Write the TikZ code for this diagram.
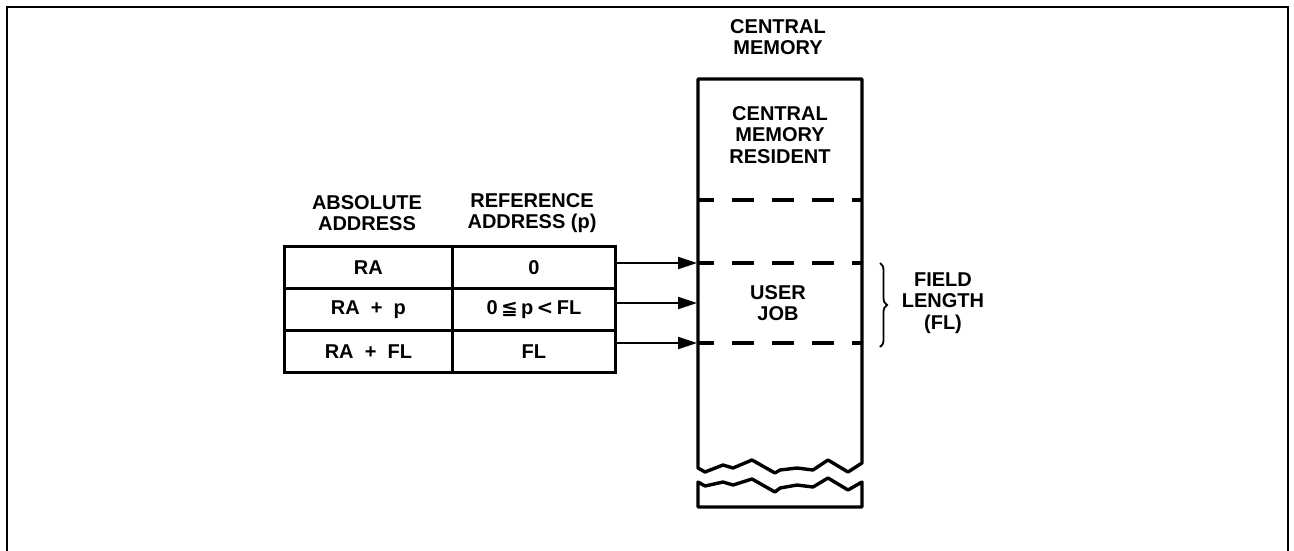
\documentclass[tikz,border=0pt]{standalone}
\usepackage{fontspec}
\setmainfont{Liberation Sans}
\newfontfamily\symfont{DejaVu Sans}
\usetikzlibrary{arrows.meta,decorations.pathreplacing}
\begin{document}
\begin{tikzpicture}[x=1pt,y=-1pt,
  lbl/.style={font=\fontsize{20}{21.5}\selectfont\bfseries, align=center, inner sep=0pt},
  cell/.style={draw, line width=2.8pt, inner sep=0pt, font=\fontsize{20}{21}\selectfont\bfseries, minimum height=42pt, anchor=north west},
  arr/.style={line width=2.2pt, -{Triangle[length=19pt,width=12pt]}},
  dashln/.style={line width=3.2pt, dash pattern=on 22pt off 18pt, dash phase=5pt},
  heavy/.style={line width=3.4pt, line join=round}]
\useasboundingbox (0,0) rectangle (1294,550);
% frame
\draw[line width=2.2pt] (7,551) -- (7,7) -- (1288,7) -- (1288,551);
% headers
\node[lbl] (hA) at (367,213) {ABSOLUTE\\ADDRESS};
\node[lbl] (hR) at (532,213) {REFERENCE\\ADDRESS (p)};
% table
\node[cell, minimum width=168pt] (a1) at (283,245) {RA};
\node[cell, minimum width=163pt] (r1) at (451,245) {0};
\node[cell, minimum width=168pt] (a2) at (283,287) {RA\ \ +\ \ p};
\node[cell, minimum width=163pt] (r2) at (451,287) {0\,{\symfont\bfseries ≦}\,p\,{\symfont\bfseries <}\,FL};
\node[cell, minimum width=168pt] (a3) at (283,329) {RA\ \ +\ \ FL};
\node[cell, minimum width=163pt] (r3) at (451,329) {FL};
% memory
\node[lbl] (cmt) at (778,37) {CENTRAL\\MEMORY};
\draw[heavy] (698,468) -- (698,79) -- (862,79) -- (862,463)
  -- (848,472) -- (828,460) -- (813,470) -- (797,468) -- (780,470) -- (775,473)
  -- (752,460) -- (733,468) -- (723,465) -- (705,472) -- cycle;
\draw[heavy] (698,482) -- (705,486) -- (723,482) -- (733,485) -- (752,479) -- (775,492)
  -- (780,488) -- (797,485) -- (813,487) -- (828,478) -- (848,490) -- (862,482)
  -- (862,507) -- (698,507) -- cycle;
\node[lbl] (cmr) at (780,135) {CENTRAL\\MEMORY\\RESIDENT};
\node[lbl] (uj) at (778,303) {USER\\JOB};
\coordinate (t1) at (697,263);
\coordinate (t2) at (697,303);
\coordinate (t3) at (697,343);
\draw[dashln] (697,200) -- (862,200);
\draw[dashln] (697,263) -- (862,263);
\draw[dashln] (697,343) -- (862,343);
% arrows
\draw[arr] (r1.east |- t1) -- (t1);
\draw[arr] (r2.east |- t2) -- (t2);
\draw[arr] (r3.east |- t3) -- (t3);
% brace
\coordinate (b1) at (880,263);
\coordinate (b2) at (880,347);
\draw[line width=1.8pt, decorate, decoration={brace, amplitude=7pt}] (b1) -- (b2);
\node[lbl] (fl) at (943,303) {FIELD\\LENGTH\\(FL)};
\end{tikzpicture}
\end{document}
